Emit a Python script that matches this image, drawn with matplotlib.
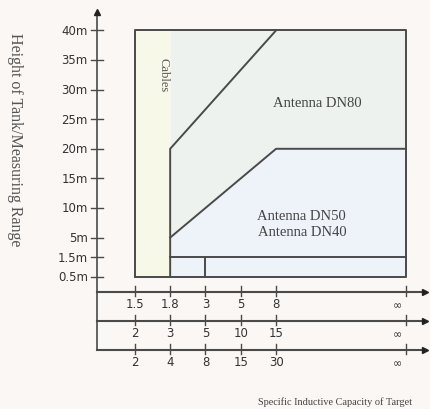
import numpy as np
import matplotlib
matplotlib.use("Agg")
import matplotlib.pyplot as plt

# height axis (m) and its uneven spacing
heights = [0.5, 1.5, 5, 10, 15, 20, 25, 30, 35, 40]
h_labels = ["0.5m", "1.5m", "5m", "10m", "15m", "20m", "25m", "30m", "35m", "40m"]
h_break = [0.5, 1.5, 5, 40]
h_pos = [0, 0.67, 1.33, 8.33]

# three scales of the specific inductive capacity
row1 = ["1.5", "1.8", "3", "5", "8", "\u221e"]
row2 = ["2", "3", "5", "10", "15", "\u221e"]
row3 = ["2", "4", "8", "15", "30", "\u221e"]
x_pos = [0, 1, 2, 3, 4, 7.68]   # position of each tick column

# region boundaries, as (tick index, height)
upper = [(1, 0.5), (1, 20), (4, 40)]
middle = [(1, 5), (4, 20), (5, 20)]
lower = [(1, 1.5), (5, 1.5)]
divider = [(2, 0.5), (2, 1.5)]

def hy(v):
    return np.interp(v, h_break, h_pos)

def pts(seg):
    return [x_pos[i] for i, _ in seg], [hy(v) for _, v in seg]

bg = "#fbf7f5"
lc = "#4a4a4a"
serif = ["Liberation Serif", "DejaVu Serif"]

fig = plt.figure(figsize=(4.3, 4.1), dpi=100, facecolor=bg)
ax = fig.add_axes([0, 0, 1, 1])
ax.set_facecolor(bg)
ax.set_xlim(-3.82, 8.36)
ax.set_ylim(-4.46, 9.39)
ax.axis("off")

x0, x18, x8, xinf = x_pos[0], x_pos[1], x_pos[4], x_pos[5]
top = hy(40)
# region fills
ax.fill_between([x0, x18], 0, top, color="#f7f8e7", lw=0)
ax.fill_between([x18, x18, x8, xinf], [hy(20), hy(20), top, top], top, color="#edf2ee", lw=0)
ax.fill_between([x18, x8, xinf], [hy(20), top, top], [hy(5), hy(20), hy(20)], color="#edf2ee", lw=0)
ax.fill_between([x18, x8, xinf], 0, [hy(5), hy(20), hy(20)], color="#eef3fa", lw=0)

# outer box and boundaries
ax.plot([x0, xinf, xinf, x0, x0], [0, 0, top, top, 0], color=lc, lw=1.4)
for seg in (upper, middle, lower, divider):
    xs, ys = pts(seg)
    ax.plot(xs, ys, color=lc, lw=1.4)

# vertical axis with arrow
yax = -1.08
rows_y = [-0.5, -1.48, -2.46]
ax.plot([yax, yax], [rows_y[-1], 8.8], color=lc, lw=1.2)
ax.plot(yax, 8.95, marker="^", color="#222", ms=4)
for v, lab in zip(heights, h_labels):
    ax.plot([yax - 0.17, yax + 0.17], [hy(v), hy(v)], color=lc, lw=1)
    ax.text(yax - 0.25, hy(v), lab, ha="right", va="center", fontsize=8.5, color="#333")

# three scale rows
for ry, labs in zip(rows_y, [row1, row2, row3]):
    ax.plot([yax, 8.2], [ry, ry], color=lc, lw=1.5)
    ax.plot(8.22, ry, marker=">", color="#222", ms=4.5)
    for x, lab in zip(x_pos, labs):
        ax.plot([x, x], [ry - 0.14, ry + 0.18], color=lc, lw=1)
        if lab == "\u221e":
            ax.text(x - 0.25, ry - 0.3, lab, ha="center", va="top", fontsize=8, color="#333")
        else:
            ax.text(x, ry - 0.16, lab, ha="center", va="top", fontsize=8.5, color="#333")

# region labels
ax.text(0.8, 6.86, "Cables", rotation=270, ha="center", va="center", fontsize=9, color="#555", family=serif)
ax.text(5.18, 5.91, "Antenna DN80", ha="center", va="center", fontsize=10.5, color="#444", family=serif)
ax.text(4.73, 2.06, "Antenna DN50", ha="center", va="center", fontsize=10.5, color="#444", family=serif)
ax.text(4.73, 1.55, "Antenna DN40", ha="center", va="center", fontsize=10.5, color="#444", family=serif)

# axis titles
ax.text(5.67, -4.2, "Specific Inductive Capacity of Target", ha="center", va="center", fontsize=7.4, color="#444", family=serif)
ax.text(-3.4, 4.66, "Height of Tank/Measuring Range", rotation=270, ha="center", va="center", fontsize=11.5, color="#555", family=serif)

fig.savefig("out.png", dpi=100, facecolor=bg)
